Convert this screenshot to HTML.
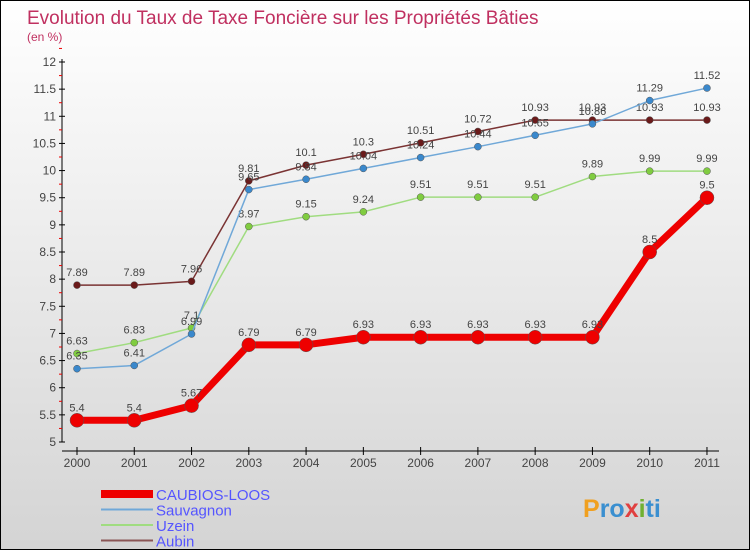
<!DOCTYPE html>
<html><head><meta charset="utf-8"><style>
body{margin:0}
#c{width:748px;height:548px;border:1px solid #000;background:linear-gradient(#fff,#d4d4d4);position:relative;font-family:"Liberation Sans",sans-serif}
svg{position:absolute;left:0;top:0}
</style></head><body>
<div id="c">
<svg id="s" width="750" height="550">
<text x="26" y="23" font-size="19" fill="#c03060">Evolution du Taux de Taxe Foncière sur les Propriétés Bâties</text>
<text x="26" y="40" font-size="12" fill="#c03060">(en %)</text>
</svg>
</div>
<script>
const years=["2000","2001","2002","2003","2004","2005","2006","2007","2008","2009","2010","2011"];
const yTicks=[5,5.5,6,6.5,7,7.5,8,8.5,9,9.5,10,10.5,11,11.5,12];
const caubios=[5.4,5.4,5.67,6.79,6.79,6.93,6.93,6.93,6.93,6.93,8.5,9.5];
const sauvagnon=[6.35,6.41,6.99,9.65,9.84,10.04,10.24,10.44,10.65,10.86,11.29,11.52];
const uzein=[6.63,6.83,7.1,8.97,9.15,9.24,9.51,9.51,9.51,9.89,9.99,9.99];
const aubin=[7.89,7.89,7.96,9.81,10.1,10.3,10.51,10.72,10.93,10.93,10.93,10.93];
const s=document.getElementById('s'),NS='http://www.w3.org/2000/svg';
const X=i=>76+i*57.27, Y=v=>441-(v-5)*(380/7);
function mk(t,a,p){const e=document.createElementNS(NS,t);for(const k in a)e.setAttribute(k,a[k]);(p||s).appendChild(e);return e;}
let ax=mk('line',{x1:61,y1:58,x2:61,y2:441,stroke:'#000'});


yTicks.forEach(v=>{mk('line',{x1:58,x2:64,y1:Y(v),y2:Y(v),stroke:'#000'});
mk('line',{x1:58,x2:61,y1:Y(v+0.25),y2:Y(v+0.25),stroke:'#e00'});
const t=mk('text',{x:55,y:Y(v)+4,'text-anchor':'end','font-size':12,fill:'#444'});t.textContent=v;

});
let xa=mk('line',{x1:61,y1:450,x2:718,y2:450,stroke:'#000'});


years.forEach((y,i)=>{mk('line',{x1:X(i),x2:X(i),y1:446,y2:454,stroke:'#000'});
const t=mk('text',{x:X(i),y:466,'text-anchor':'middle','font-size':12,fill:'#444'});t.textContent=y;

});
function series(d,col,dot,w,r,name){
const g=mk('g',{});


mk('polyline',{points:d.map((v,i)=>X(i)+','+Y(v)).join(' '),fill:'none',stroke:col,'stroke-width':w,'stroke-linejoin':'round'},g);
d.forEach((v,i)=>{const c=mk('circle',{cx:X(i),cy:Y(v),r:r,fill:dot,stroke:'#555','stroke-width':0.5},g);


const t=mk('text',{x:X(i),y:Y(v)-9,'text-anchor':'middle','font-size':11,fill:'#444'},g);t.textContent=v;});}
series(aubin,'#7a3333','#6a1a1a',1.5,3.5,'series-aubin');
series(uzein,'#a0dc80','#80cc40',1.5,3.5,'series-uzein');
series(sauvagnon,'#70a8d8','#3a88cc',1.5,3.5,'series-sauvagnon');
series(caubios,'#ee0000','#ee0000',7,7,'series-caubios-loos');
const leg=[['CAUBIOS-LOOS','#ee0000',8],['Sauvagnon','#70a8d8',2],['Uzein','#a0dc80',2],['Aubin','#8a5555',2]];
leg.forEach((l,i)=>{const y=493+i*15.5;
mk('line',{x1:100,x2:152,y1:y,y2:y,stroke:l[1],'stroke-width':l[2]});
const t=mk('text',{x:155,y:y+6,'font-size':15,fill:'#5555ff'});t.textContent=l[0];

});
const p=mk('text',{x:582,y:516,'font-size':25,'font-weight':'bold',fill:'#3a8fd0'});
p.innerHTML='<tspan fill="#f0a020">P</tspan>ro<tspan fill="#e04040">x</tspan><tspan fill="#70b030">i</tspan>ti';


</script>
</body></html>
